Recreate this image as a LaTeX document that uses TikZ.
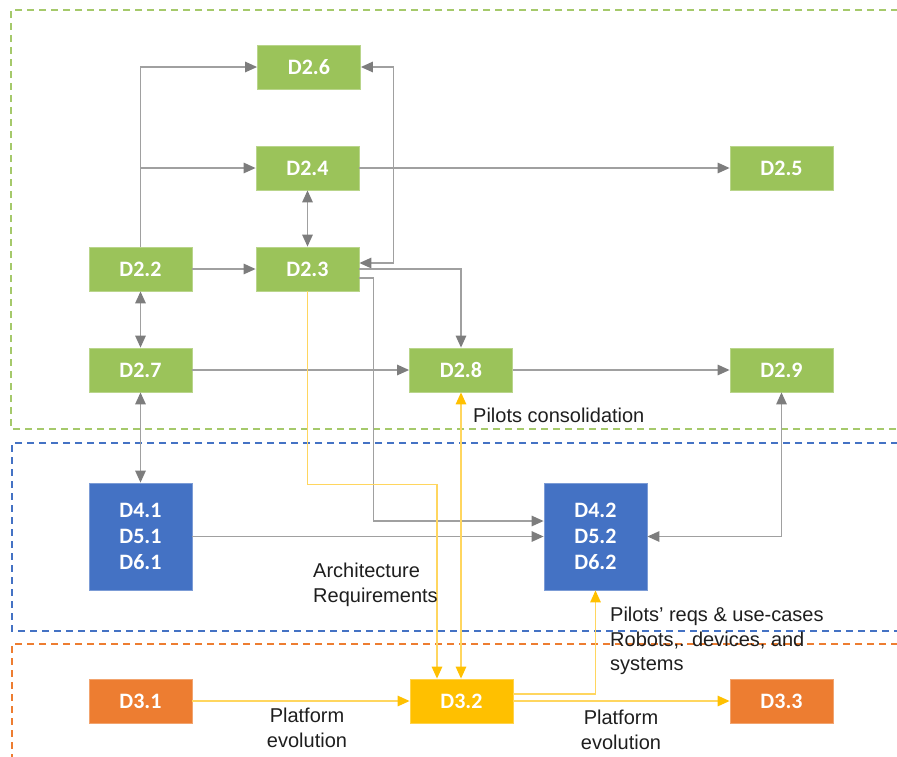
\documentclass[tikz,border=0pt]{standalone}
\usepackage{fontspec}
\setmainfont{Liberation Sans}
\newfontfamily\boxfont{Carlito}
\usetikzlibrary{arrows.meta,positioning}
\definecolor{wpgreen}{RGB}{155,195,90}
\definecolor{wpblue}{RGB}{68,114,196}
\definecolor{wporange}{RGB}{237,125,49}
\definecolor{wpyellow}{RGB}{255,192,0}
\definecolor{lnkgray}{RGB}{160,160,160}
\definecolor{tipgray}{RGB}{125,125,125}
\definecolor{lnkyellow}{RGB}{255,214,95}
\definecolor{txtdark}{RGB}{30,30,30}
\tikzset{
  deliv/.style={minimum width=103pt, minimum height=44pt, inner sep=0pt,
    text=white, font=\boxfont\bfseries\fontsize{22}{26}\selectfont, align=center},
  gbox/.style={deliv, fill=wpgreen, draw=wpgreen!70!white, line width=0.8pt},
  bbox/.style={deliv, fill=wpblue, draw=wpblue!70!white, line width=0.8pt, minimum height=107pt},
  obox/.style={deliv, fill=wporange, draw=wporange!70!white, line width=0.8pt},
  ybox/.style={deliv, fill=wpyellow, draw=wpyellow!70!white, line width=0.8pt},
  gtip/.tip={Triangle[length=12pt,width=10.5pt,color=tipgray]},
  ytip/.tip={Triangle[length=12pt,width=10.5pt,color=wpyellow]},
  glink/.style={draw=lnkgray, line width=1.4pt, -gtip},
  gboth/.style={draw=lnkgray, line width=1.4pt, gtip-gtip},
  ylink/.style={draw=lnkyellow, line width=1.4pt, -ytip},
  yboth/.style={draw=lnkyellow, line width=1.4pt, ytip-ytip},
  frame/.style={line width=1.8pt, dash pattern=on 7pt off 5pt},
  lbl/.style={inner sep=0pt, text=txtdark, font=\fontsize{20}{24.5}\selectfont},
}
\begin{document}
\begin{tikzpicture}[x=1pt,y=-1pt]
\useasboundingbox (0,0) rectangle (897,756);
\clip (0,0) rectangle (897,756);

% work-package frames
\draw[frame, draw=wpgreen!90!white] (910,10) -- (11,10) -- (11,429) -- (910,429);
\draw[frame, draw=wpblue] (910,443) -- (12,443) -- (12,631) -- (910,631);
\draw[frame, draw=wporange] (910,644) -- (12,644) -- (12,770);

% deliverables
\node[gbox] (D26) at (309,67) {D2.6};
\node[gbox] (D24) at (307.5,168) {D2.4};
\node[gbox] (D25) at (781.5,168) {D2.5};
\node[gbox] (D22) at (140.5,269) {D2.2};
\node[gbox] (D23) at (307.5,269) {D2.3};
\node[gbox] (D27) at (140.5,370) {D2.7};
\node[gbox] (D28) at (461,370) {D2.8};
\node[gbox] (D29) at (781.5,370) {D2.9};
\node[bbox] (D41) at (140.5,536.5) {D4.1\\D5.1\\D6.1};
\node[bbox] (D42) at (595.5,536.5) {D4.2\\D5.2\\D6.2};
\node[obox] (D31) at (140.5,701) {D3.1};
\node[ybox] (D32) at (461.5,701) {D3.2};
\node[obox] (D33) at (781.5,701) {D3.3};

% gray dependencies
\coordinate (split) at (D22.north |- D24.west);
\draw[glink] (D22.north) |- (D26.west);
\draw[glink] (split) -- (D24.west);
\draw[gboth] (D24.south) -- (D23.north);
\draw[glink] (D22.east) -- (D23.west);
\draw[gboth] ([yshift=6pt]D23.east) -- ++(34,0) |- (D26.east);
\draw[glink] (D24.east) -- (D25.west);
\draw[glink] (D23.east) -| (D28.north);
\draw[glink] ([yshift=-9pt]D23.east) -- ++(14,0) |- ([yshift=15.5pt]D42.west);
\draw[glink] (D27.east) -- (D28.west);
\draw[glink] (D28.east) -- (D29.west);
\draw[gboth] (D22.south) -- (D27.north);
\draw[gboth] (D27.south) -- (D41.north);
\draw[glink] (D41.east) -- (D42.west);
\draw[gboth] (D29.south) |- (D42.east);

% yellow dependencies
\draw[ylink] (D23.south) -- ++(0,193) -| ([xshift=-24.5pt]D32.north);
\draw[yboth] (D28.south) -- (D28.south |- D32.north);
\draw[ylink] (D31.east) -- (D32.west);
\draw[ylink] (D32.east) -- (D33.west);
\draw[ylink] ([yshift=7pt]D32.east) -| (D42.south);

% labels
\node[lbl, anchor=west] (pc) at (473,415) {Pilots consolidation};
\node[lbl, anchor=north west, align=left] (ar) at (313,563) {Architecture\\Requirements};
\node[lbl, anchor=north west, align=left] (pr) at (610,607) {Pilots’ reqs \& use-cases\\Robots,. devices, and\\systems};
\node[lbl, anchor=north, align=center] (pe1) at (307,708) {Platform\\evolution};
\node[lbl, anchor=north, align=center] (pe2) at (621,710) {Platform\\evolution};
\end{tikzpicture}
\end{document}
